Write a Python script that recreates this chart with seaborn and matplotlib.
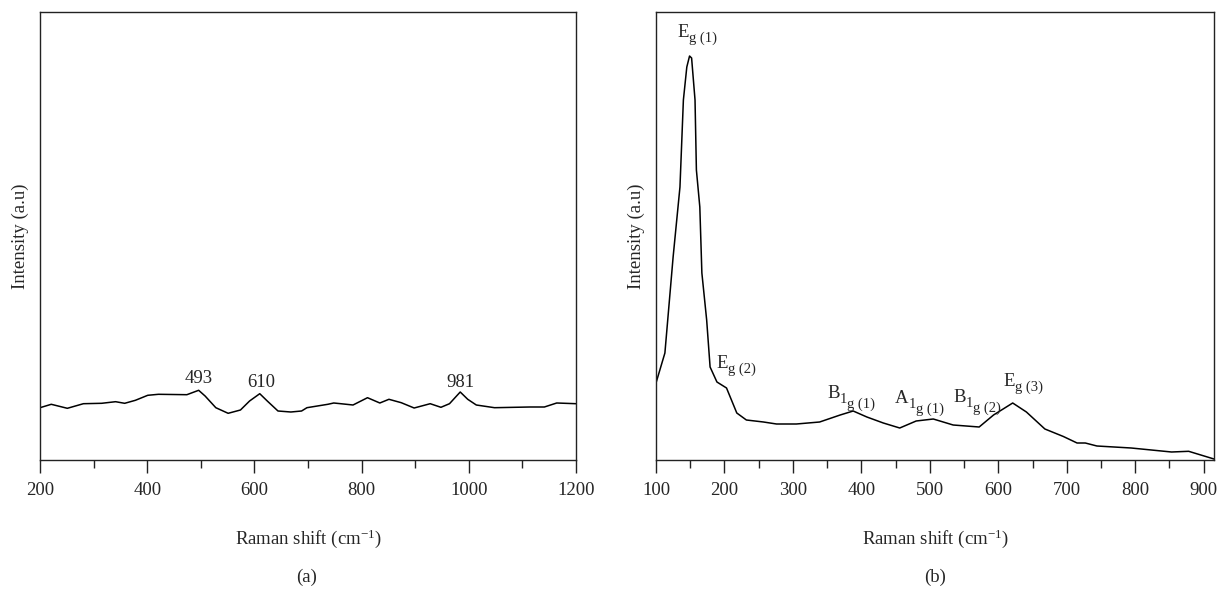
import matplotlib
matplotlib.use("Agg")
import matplotlib.pyplot as plt
import seaborn as sns
from matplotlib.ticker import MultipleLocator

# panel (a): Raman shift vs intensity (arbitrary units)
shift_a = [200, 221, 251, 281, 315, 341, 358, 378, 401, 421, 474, 496, 508, 528,
           551, 574, 591, 610, 624, 644, 668, 688, 698, 737, 748, 761, 784, 811,
           834, 851, 874, 898, 928, 948, 964, 984, 998, 1014, 1048, 1114, 1141,
           1164, 1200]
inten_a = [52.3, 55.7, 51.7, 56.3, 56.7, 58.3, 56.7, 59.7, 64.7, 65.7, 65.3, 69.7,
           64.0, 52.3, 46.7, 50.0, 59.0, 66.3, 59.0, 49.0, 48.0, 49.0, 52.3, 55.7,
           57.0, 56.3, 55.0, 62.3, 57.0, 60.7, 57.3, 52.0, 56.3, 52.7, 56.3, 68.0,
           60.7, 55.0, 52.3, 53.0, 53.0, 57.0, 56.3]
peaks_a = [493, 610, 981]
peak_lbl_y_a = [77, 73, 73]

# panel (b)
shift_b = [100, 113, 125, 135, 140, 145, 149, 152, 157, 159, 164, 167, 174, 179,
           189, 203, 218, 232, 257, 276, 305, 339, 369, 388, 408, 432, 456, 480,
           505, 534, 572, 593, 621, 641, 668, 695, 715, 727, 744, 794, 853, 878, 915]
inten_b = [77, 107, 203, 273, 360, 393, 404, 402, 360, 290, 253, 187, 140, 93,
           78, 72, 47, 40, 38, 36, 36, 38, 45, 49, 43, 37, 32, 39, 41, 35, 33, 45,
           57, 48, 31, 23.5, 17, 17, 14, 12, 8, 8.7, 1]
# mode labels: main letter, first subscript, second-level subscript
mode_main = ["E", "E", "B", "A", "B", "E"]
mode_sub = ["g (1)", "g (2)", "1", "1", "1", "g (3)"]
mode_subsub = [None, None, "g (1)", "g (1)", "g (2)", None]
mode_x_b = [132, 189, 350, 449, 534, 607]
mode_y_b = [423, 92, 62, 57, 58, 74]

sns.set_theme(style="ticks")
plt.rcParams["font.family"] = ["Liberation Serif", "DejaVu Serif"]
plt.rcParams["mathtext.fontset"] = "custom"
plt.rcParams["mathtext.rm"] = "Liberation Serif"
plt.rcParams["mathtext.it"] = "Liberation Serif:italic"
plt.rcParams["axes.edgecolor"] = "#222222"

fig = plt.figure(figsize=(12.17, 5.90), dpi=100)
ax_a = fig.add_axes([40 / 1217, 130 / 590, 536 / 1217, 448 / 590])
ax_b = fig.add_axes([656 / 1217, 130 / 590, 558 / 1217, 448 / 590])

fs = 13.5
sfs = 10.5
# advance widths (em) of the main letters in a Times-like face
letter_w = {"E": 0.611, "B": 0.667, "A": 0.722}


def style(ax, lo, hi, major, minor):
    ax.set_xlim(lo, hi)
    ax.set_ylim(0, 448)
    ax.xaxis.set_major_locator(MultipleLocator(major))
    ax.xaxis.set_minor_locator(MultipleLocator(minor))
    ax.set_yticks([])
    ax.tick_params(axis="x", which="major", direction="out", length=9, width=1,
                   labelsize=fs, pad=7, color="#222222")
    ax.tick_params(axis="x", which="minor", direction="out", length=5.5, width=1,
                   color="#222222")
    for sp in ax.spines.values():
        sp.set_linewidth(1.0)
        sp.set_visible(True)
    ax.set_xlabel(r"Raman shift (cm$^{-1}$)", fontsize=fs, labelpad=20)
    ax.set_ylabel("Intensity (a.u)", fontsize=fs, labelpad=8)


def mode_label(ax, x, y, main, sub, subsub):
    ax.text(x, y, main, ha="left", va="baseline", fontsize=fs)
    dx = letter_w[main] * fs
    ax.annotate(sub, xy=(x, y), xytext=(dx, -3.5), textcoords="offset points",
                ha="left", va="baseline", fontsize=sfs)
    if subsub:
        ax.annotate(subsub, xy=(x, y), xytext=(dx + 0.5 * sfs + 0.3, -6.8),
                    textcoords="offset points", ha="left", va="baseline",
                    fontsize=sfs)


sns.lineplot(x=shift_a, y=inten_a, ax=ax_a, color="black", linewidth=1.1)
style(ax_a, 200, 1200, 200, 100)
for px, py in zip(peaks_a, peak_lbl_y_a):
    ax_a.text(px + 3, py, str(px), ha="center", va="baseline", fontsize=fs)

sns.lineplot(x=shift_b, y=inten_b, ax=ax_b, color="black", linewidth=1.1)
style(ax_b, 100, 915, 100, 50)
for m, s, ss, mx, my in zip(mode_main, mode_sub, mode_subsub, mode_x_b, mode_y_b):
    mode_label(ax_b, mx, my, m, s, ss)

fig.text(307 / 1217, 1 - 577 / 590, "(a)", ha="center", va="center", fontsize=fs)
fig.text(935 / 1217, 1 - 577 / 590, "(b)", ha="center", va="center", fontsize=fs)

fig.savefig("out.png", dpi=100)
